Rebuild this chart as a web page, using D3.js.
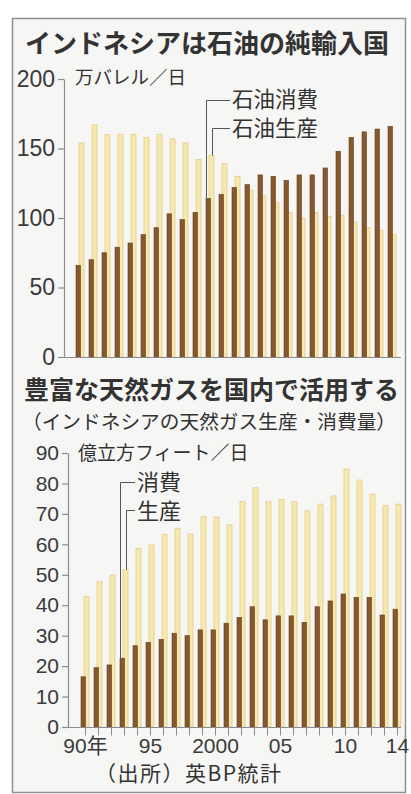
<!DOCTYPE html>
<html lang="ja">
<head>
<meta charset="utf-8">
<script src="https://cdn.jsdelivr.net/npm/d3@7/dist/d3.min.js"></script>
<style>
  html, body { margin: 0; padding: 0; background: #ffffff; }
  svg { display: block; }
  .num { font-family: "Liberation Sans", Arial, "Noto Sans CJK JP", sans-serif; fill: #3a3a3a; }
  .jp { font-family: "Noto Sans CJK JP", "Noto Sans", sans-serif; fill: #333; }
</style>
</head>
<body>
<script>
// Years shown on both panels
const years = [1990,1991,1992,1993,1994,1995,1996,1997,1998,1999,2000,2001,2002,2003,2004,
               2005,2006,2007,2008,2009,2010,2011,2012,2013,2014];

// Oil, 10,000 barrels per day
const oilConsumption = [66,70,75,79,82,88,93,103,99,104,114,117,122,124,131,130,127,131,131,136,148,158,162,164,166];
const oilProduction  = [154,167,160,160,160,158,160,157,154,142,145,139,130,120,116,111,104,100,104,101,102,97,93,91,88];
const oilTicks = [0,50,100,150,200];

// Natural gas, 100 million cubic feet per day
const gasConsumption = [16.5,19.5,20.4,22.6,26.7,27.8,28.8,30.8,30.0,31.9,31.9,34.1,36.0,39.5,35.2,36.5,36.5,34.4,39.5,41.4,43.7,42.6,42.6,36.8,38.7];
const gasProduction  = [42.8,47.7,49.9,51.6,58.7,59.8,63.3,65.3,63.4,69.1,68.9,66.4,74.0,78.6,74.0,74.8,74.0,71.0,73.2,75.9,84.7,81.1,76.5,72.7,73.2];
const gasTicks = [0,10,20,30,40,50,60,70,80,90];
const gasYearLabels = {1990:"90年",1995:"95",2000:"2000",2005:"05",2010:"10",2014:"14"};

const W = 411, H = 794;
const COL_CONS = "#87572d", COL_CONS_EDGE = "#65401f";
const COL_PROD = "#f5e9ad", COL_PROD_EDGE = "#e6ca8e";

const svg = d3.select("body").append("svg").attr("width", W).attr("height", H);

// frame
svg.append("rect").attr("x", 12.5).attr("y", 18.5).attr("width", 393).attr("height", 774)
  .attr("fill", "#f6f6f4").attr("stroke", "#8f8f8f").attr("stroke-width", 1.5);

function panel(opt) {
  const x = d3.scaleBand().domain(years).range([opt.x0, opt.x0 + years.length * 13]).padding(0);
  const y = d3.scaleLinear().domain([0, opt.max]).range([opt.y0, opt.y1]);
  const g = svg.append("g");

  // production bars sit behind, shifted right
  g.selectAll("rect.prod").data(years).join("rect").attr("class", "prod")
    .attr("x", d => x(d) + 3).attr("width", 5)
    .attr("y", (d, i) => y(opt.prod[i])).attr("height", (d, i) => opt.y0 - y(opt.prod[i]))
    .attr("fill", COL_PROD).attr("stroke", COL_PROD_EDGE).attr("stroke-width", 0.8);
  // consumption bars in front
  g.selectAll("rect.cons").data(years).join("rect").attr("class", "cons")
    .attr("x", d => x(d)).attr("width", 4.5)
    .attr("y", (d, i) => y(opt.cons[i])).attr("height", (d, i) => opt.y0 - y(opt.cons[i]))
    .attr("fill", COL_CONS).attr("stroke", COL_CONS_EDGE).attr("stroke-width", 0.6);

  // baseline
  g.append("line").attr("x1", opt.axisX).attr("x2", 401).attr("y1", opt.y0 + 0.5).attr("y2", opt.y0 + 0.5)
    .attr("stroke", "#8c8c8c").attr("stroke-width", 1.2);

  // y axis
  const ya = g.append("g").attr("transform", `translate(${opt.axisX},0)`)
    .call(d3.axisLeft(y).tickValues(opt.ticks).tickSize(6).tickSizeOuter(0).tickPadding(3));
  ya.select(".domain").attr("stroke", "#8c8c8c").attr("stroke-width", 1.2);
  ya.selectAll(".tick line").attr("stroke", "#8c8c8c").attr("stroke-width", 1.2);
  ya.selectAll(".tick text").attr("class", "num").attr("fill", "#3a3a3a")
    .style("font-size", opt.tickFont + "px").attr("font-family", null);

  return { x, y, g };
}

// ---- Oil panel ----
svg.append("text").attr("class", "jp").attr("x", 25).attr("y", 53)
  .style("font-size", "26px").style("font-weight", "bold").attr("fill", "#222")
  .text("インドネシアは石油の純輸入国");

const oil = panel({ x0: 76, y0: 357, y1: 79, max: 200, axisX: 64, ticks: oilTicks,
  cons: oilConsumption, prod: oilProduction, tickFont: 23 });

svg.append("text").attr("class", "jp").attr("x", 75).attr("y", 84)
  .style("font-size", "18.5px").text("万バレル／日");

{
  const i = years.indexOf(2000);
  const xc = oil.x(2000) + 0.5, xp = oil.x(2000) + 6.5;
  const lg = svg.append("g").attr("stroke", "#555").attr("stroke-width", 1).attr("fill", "none");
  lg.append("path").attr("d", `M230,100.5H${xc}V${oil.y(oilConsumption[i])}`);
  lg.append("path").attr("d", `M230,128.5H${xp}V${oil.y(oilProduction[i])}`);
  svg.append("text").attr("class", "jp").attr("x", 232).attr("y", 107).style("font-size", "21.5px").text("石油消費");
  svg.append("text").attr("class", "jp").attr("x", 232).attr("y", 136).style("font-size", "21.5px").text("石油生産");
}

// ---- Gas panel ----
svg.append("text").attr("class", "jp").attr("x", 24).attr("y", 399)
  .style("font-size", "25px").style("font-weight", "bold").attr("fill", "#222")
  .text("豊富な天然ガスを国内で活用する");
svg.append("text").attr("class", "jp").attr("x", 22).attr("y", 429)
  .style("font-size", "19.7px").text("（インドネシアの天然ガス生産・消費量）");

const gas = panel({ x0: 81, y0: 727, y1: 453, max: 90, axisX: 68, ticks: gasTicks,
  cons: gasConsumption, prod: gasProduction, tickFont: 21 });

svg.append("text").attr("class", "jp").attr("x", 78).attr("y", 460)
  .style("font-size", "19px").text("億立方フィート／日");

// x axis with year ticks
{
  const xa = svg.append("g").attr("transform", `translate(-2,${727.5})`)
    .call(d3.axisBottom(gas.x).tickSize(8).tickSizeOuter(0).tickPadding(3)
      .tickFormat(d => gasYearLabels[d] || ""));
  xa.select(".domain").remove();
  xa.selectAll(".tick line").attr("stroke", "#8c8c8c").attr("stroke-width", 1);
  xa.selectAll(".tick text").attr("class", "num").attr("fill", "#3a3a3a")
    .style("font-size", "21px").attr("font-family", null);
}

{
  const i = years.indexOf(1993);
  const xc = gas.x(1993) + 0.5, xp = gas.x(1993) + 6.5;
  const lg = svg.append("g").attr("stroke", "#555").attr("stroke-width", 1).attr("fill", "none");
  lg.append("path").attr("d", `M135,482.5H${xc}V${gas.y(gasConsumption[i])}`);
  lg.append("path").attr("d", `M135,510.5H${xp}V${gas.y(gasProduction[i])}`);
  svg.append("text").attr("class", "jp").attr("x", 137).attr("y", 490).style("font-size", "22px").text("消費");
  svg.append("text").attr("class", "jp").attr("x", 137).attr("y", 519).style("font-size", "22px").text("生産");
}

svg.append("text").attr("class", "jp").attr("x", 95).attr("y", 781)
  .style("font-size", "21px").style("letter-spacing", "1.5px").text("（出所）英BP統計");
</script>
</body>
</html>
